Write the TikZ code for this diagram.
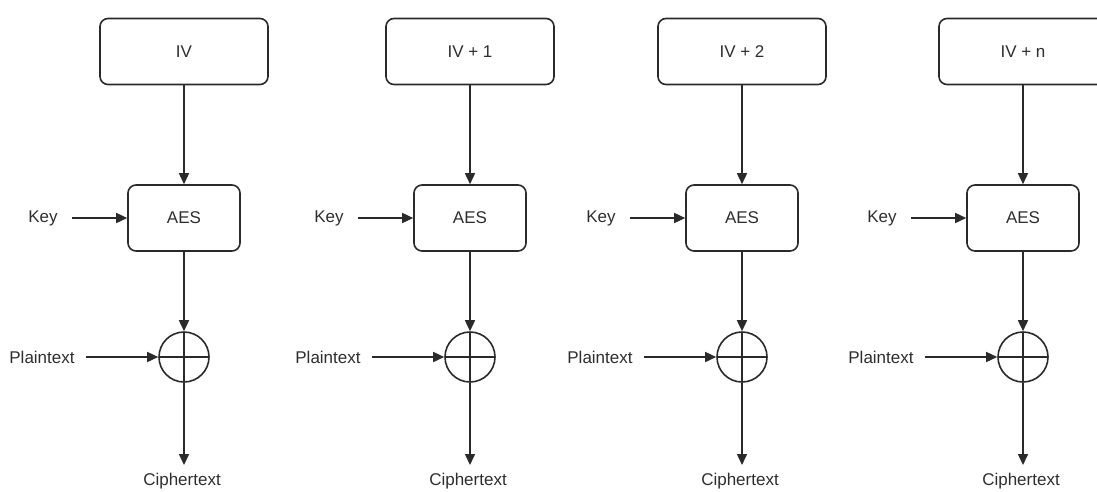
\documentclass[tikz,border=0pt]{standalone}
\usepackage{fontspec}
\setmainfont{Liberation Sans}
\usetikzlibrary{arrows.meta}
\definecolor{ln}{HTML}{2A2A2A}
\definecolor{tx}{HTML}{2E2E2E}
\begin{document}
\begin{tikzpicture}[x=1pt,y=-1pt,
  lbl/.style={font=\fontsize{17}{18}\selectfont, text=tx, inner sep=0pt},
  ivbox/.style={draw=ln, line width=1.6pt, rounded corners=8pt, minimum width=168pt, minimum height=66pt, inner sep=0pt, font=\fontsize{17}{18}\selectfont, text=tx},
  aesbox/.style={draw=ln, line width=1.6pt, rounded corners=8pt, minimum width=112pt, minimum height=66pt, inner sep=0pt, font=\fontsize{17}{18}\selectfont, text=tx},
  xorc/.style={draw=ln, line width=1.6pt, circle, minimum size=50pt, inner sep=0pt,
    path picture={\draw[ln, line width=1.4pt] (path picture bounding box.north) -- (path picture bounding box.south) (path picture bounding box.west) -- (path picture bounding box.east);}},
  arr/.style={draw=ln, line width=1.5pt, -{Triangle[length=11pt,width=10pt]}}
]
\useasboundingbox (0,0) rectangle (1097,491);
\clip (0,0) rectangle (1097,491);
\foreach \cx/\lab/\i in {184/IV/1, 470/IV + 1/2, 742/IV + 2/3, 1023/IV + n/4} {
  \node[ivbox] (iv\i) at (\cx,51.5) {\lab};
  \node[aesbox] (aes\i) at (\cx,218) {AES};
  \node[xorc] (x\i) at (\cx,357) {};
  \node[lbl] (key\i) at (\cx-141,218) {Key};
  \node[lbl] (pt\i) at (\cx-142,357) {Plaintext};
  \node[lbl] (ct\i) at (\cx-2,481) {Ciphertext};
  \coordinate (ks\i) at (\cx-112,218);
  \coordinate (ps\i) at (\cx-98,357);
  \coordinate (ce\i) at (\cx,465);
  \draw[arr] (iv\i.south) -- (aes\i.north);
  \draw[arr] (ks\i) -- (aes\i.west);
  \draw[arr] (aes\i.south) -- (x\i.north);
  \draw[arr] (ps\i) -- (x\i.west);
  \draw[arr] (x\i.south) -- (ce\i);
}
\end{tikzpicture}
\end{document}
